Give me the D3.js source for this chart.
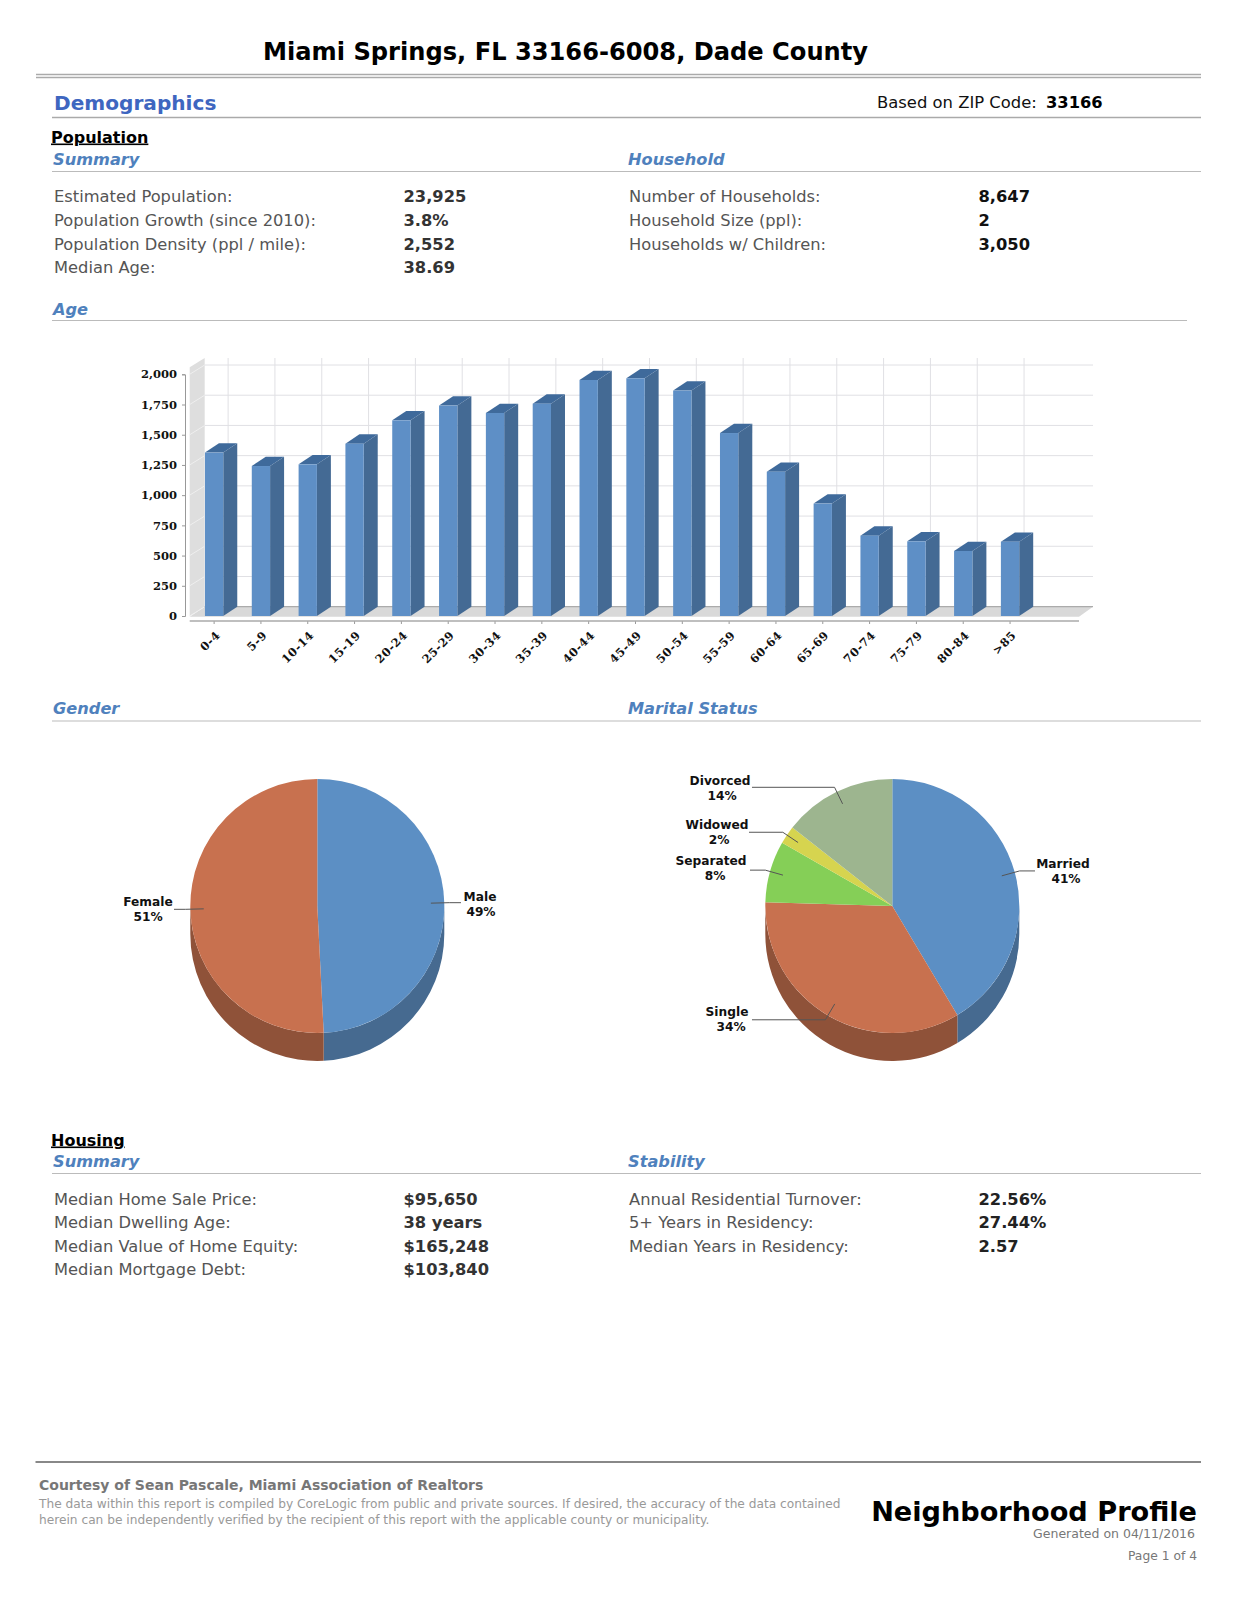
<!DOCTYPE html>
<html>

<head>
    <meta charset="UTF-8">
    <style>
        body { margin: 0; background: #fff; }
        svg { display: block; }
        text { font-family: "DejaVu Sans", sans-serif; }
    </style>
</head>

<body>
    <script src="https://d3js.org/d3.v7.min.js"></script>
    <div id="chart"></div>
    <script>
        // values
        const ageGroups = ["0-4", "5-9", "10-14", "15-19", "20-24", "25-29", "30-34", "35-39", "40-44", "45-49", "50-54", "55-59", "60-64", "65-69", "70-74", "75-79", "80-84", ">85"];
        const ageCounts = [1352, 1241, 1255, 1426, 1619, 1741, 1680, 1757, 1953, 1967, 1865, 1514, 1194, 930, 665, 618, 538, 615];
        const ageTicks = [0, 250, 500, 750, 1000, 1250, 1500, 1750, 2000];

        const genderNames = ["Male", "Female"];
        const genderShares = [49.2, 50.8];
        const maritalNames = ["Married", "Single", "Separated", "Widowed", "Divorced"];
        const maritalShares = [41.4, 34.0, 7.8, 2.3, 14.4];

        const populationLabels = ["Estimated Population:", "Population Growth (since 2010):", "Population Density (ppl / mile):", "Median Age:"];
        const populationValues = ["23,925", "3.8%", "2,552", "38.69"];
        const householdLabels = ["Number of Households:", "Household Size (ppl):", "Households w/ Children:"];
        const householdValues = ["8,647", "2", "3,050"];
        const housingLabels = ["Median Home Sale Price:", "Median Dwelling Age:", "Median Value of Home Equity:", "Median Mortgage Debt:"];
        const housingValues = ["$95,650", "38 years", "$165,248", "$103,840"];
        const stabilityLabels = ["Annual Residential Turnover:", "5+ Years in Residency:", "Median Years in Residency:"];
        const stabilityValues = ["22.56%", "27.44%", "2.57"];

        const svg = d3.select("#chart")
            .append("svg")
            .attr("width", 1236)
            .attr("height", 1600);

        const line = (x1, y1, x2, y2, color, w) => svg.append("line")
            .attr("x1", x1).attr("y1", y1).attr("x2", x2).attr("y2", y2)
            .attr("stroke", color).attr("stroke-width", w);

        const label = (x, y, str, size, color, weight, extra) => {
            const t = svg.append("text")
                .attr("x", x).attr("y", y)
                .attr("font-size", size)
                .attr("fill", color)
                .attr("font-weight", weight || "normal")
                .text(str);
            if (extra) extra(t);
            return t;
        };

        const sectionHead = (x, y, str) => label(x, y, str, 16.2, "#4f81bd", "bold", t => t.attr("font-style", "italic"));

        const rows = (x1, x2, ys, labels, values, valueColor) => {
            labels.forEach((d, i) => {
                label(x1, ys[i], d, 16.3, "#555", "normal");
                label(x2, ys[i], values[i], 16.3, valueColor, "bold");
            });
        };

        // page header
        label(263, 60, "Miami Springs, FL 33166-6008, Dade County", 24.15, "#000", "bold");
        line(36, 74.5, 1201, 74.5, "#aaa", 1.5);
        line(36, 77.5, 1201, 77.5, "#aaa", 1.5);
        label(54, 110, "Demographics", 20.1, "#3e66c0", "bold");
        label(877, 108, "Based on ZIP Code:", 16.4, "#111");
        label(1046, 108, "33166", 16.3, "#000", "bold");
        line(52, 117.5, 1201, 117.5, "#aaa", 1.5);

        // population block
        label(51, 142.5, "Population", 16, "#000", "bold", t => t.attr("text-decoration", "underline"));
        sectionHead(53, 165, "Summary");
        sectionHead(628, 165, "Household");
        line(52, 171.5, 1201, 171.5, "#bbb", 1);
        const topRows = [202, 225.5, 249.5, 273];
        rows(54, 403.5, topRows, populationLabels, populationValues, "#333");
        rows(629, 978.5, topRows, householdLabels, householdValues, "#111");

        sectionHead(53, 314.5, "Age");
        line(52, 320.5, 1187, 320.5, "#bbb", 1);

        // age chart, fake 3D like the original
        const depthX = 14, depthY = 9.3;
        const x = d3.scaleBand()
            .domain(ageGroups)
            .range([190.7, 190.7 + 46.82 * 18])
            .paddingInner(0.609)
            .paddingOuter(0.3045);
        const y = d3.scaleLinear()
            .domain([0, 2000])
            .range([616, 374.3]);
        const poly = pts => "M" + pts.map(p => p.join(",")).join("L") + "Z";

        const y0 = y(0), wallX = x.range()[0] - 1, backX = x.range()[0] + depthX, topY = y(2000) - depthY - 7;
        svg.append("path")
            .attr("d", poly([[wallX, y0], [backX, y0 - depthY], [backX, topY], [wallX, topY + depthY]]))
            .attr("fill", "#dedede");
        svg.append("path")
            .attr("d", poly([[wallX, y0 + 0.7], [backX, y0 - depthY], [1093, y0 - depthY], [1079, y0 + 0.7]]))
            .attr("fill", "#d9d9d9");

        const grid = svg.append("g").attr("fill", "none").attr("stroke", "#e0e0e4");
        ageTicks.forEach(t => {
            grid.append("path").attr("d", `M${wallX},${y(t)}L${backX},${y(t) - depthY}`).attr("stroke", "#efefef");
            if (t > 0) grid.append("line").attr("x1", backX).attr("x2", 1093)
                .attr("y1", y(t) - depthY).attr("y2", y(t) - depthY);
        });
        grid.selectAll("line.v")
            .data(ageGroups)
            .enter()
            .append("line")
            .attr("x1", d => x(d) + x.bandwidth() / 2 + depthX)
            .attr("x2", d => x(d) + x.bandwidth() / 2 + depthX)
            .attr("y1", topY)
            .attr("y2", y0 - depthY);
        line(backX, y0 - depthY, 1093, y0 - depthY, "#999", 1);

        const bars = svg.selectAll("g.bar")
            .data(ageGroups.map((d, i) => ({ group: d, value: ageCounts[i] })))
            .enter()
            .append("g")
            .attr("class", "bar");
        bars.append("path")
            .attr("fill", "#446a94")
            .attr("d", d => {
                const r = x(d.group) + x.bandwidth();
                return poly([[r, y0], [r + depthX, y0 - depthY], [r + depthX, y(d.value) - depthY], [r, y(d.value)]]);
            });
        bars.append("path")
            .attr("fill", "#3f6a9b")
            .attr("d", d => {
                const l = x(d.group), r = l + x.bandwidth(), t = y(d.value);
                return poly([[l, t], [l + depthX, t - depthY], [r + depthX, t - depthY], [r, t]]);
            });
        bars.append("rect")
            .attr("x", d => x(d.group))
            .attr("y", d => y(d.value))
            .attr("width", x.bandwidth())
            .attr("height", d => y0 - y(d.value))
            .attr("fill", "#5e8fc6");

        const axisFont = g => g.selectAll("text")
            .style("font-family", '"DejaVu Serif", serif')
            .style("font-weight", "bold")
            .style("font-size", "11.5px")
            .style("fill", "#111");

        const yAxis = svg.append("g")
            .attr("transform", "translate(185,0)")
            .call(d3.axisLeft(y).tickValues(ageTicks).tickFormat(d3.format(",")).tickSize(3).tickPadding(5));
        axisFont(yAxis);
        yAxis.selectAll("path,line").attr("stroke", "#999");

        const xAxis = svg.append("g")
            .attr("transform", "translate(0,621)")
            .call(d3.axisBottom(x).tickSize(3).tickSizeOuter(0));
        axisFont(xAxis);
        xAxis.select(".domain").remove();
        xAxis.selectAll("line").attr("stroke", "#999");
        xAxis.selectAll("text")
            .attr("x", 0).attr("y", 0).attr("dy", "0.35em")
            .attr("transform", "translate(4,12) rotate(-45)")
            .style("text-anchor", "end")
            .style("letter-spacing", "0.6px");
        line(wallX, 621, 1079, 621, "#aaa", 1.5);

        // gender / marital heads
        sectionHead(53, 714, "Gender");
        sectionHead(628, 714, "Marital Status");
        line(52, 721, 1201, 721, "#bbb", 1);

        // 3D pies: top face from d3.arc, rim from the part of each slice facing the viewer
        const pieR = 127, pieDepth = 28;
        function drawPie(cx, cy, names, shares, colors, sideColors, labelLayout) {
            const g = svg.append("g").attr("transform", `translate(${cx},${cy})`);
            const slices = d3.pie().sort(null)(shares);
            const arc = d3.arc().innerRadius(0).outerRadius(pieR);
            const lo = Math.PI / 2, hi = Math.PI * 1.5;

            slices.forEach((s, i) => {
                const a0 = Math.max(s.startAngle, lo), a1 = Math.min(s.endAngle, hi);
                if (a1 <= a0) return;
                const p = d3.path();
                p.arc(0, 0, pieR, a0 - lo, a1 - lo);
                p.arc(0, pieDepth, pieR, a1 - lo, a0 - lo, true);
                p.closePath();
                g.append("path").attr("d", p.toString()).attr("fill", sideColors[i]);
            });
            g.selectAll("path.slice")
                .data(slices)
                .enter()
                .append("path")
                .attr("class", "slice")
                .attr("d", arc)
                .attr("fill", (d, i) => colors[i]);

            // leader lines start inside the slice, bend at the rim, then run level to the label
            const polar = (a, r) => [Math.sin(a) * r, -Math.cos(a) * r];
            slices.forEach((s, i) => {
                const mid = (s.startAngle + s.endAngle) / 2;
                const inner = polar(mid, 113.6), elbow = polar(mid, 132);
                const lay = labelLayout[i];
                g.append("path")
                    .attr("fill", "none")
                    .attr("stroke", "#555")
                    .attr("stroke-width", 1)
                    .attr("d", `M${inner}L${elbow}L${lay.endX - cx},${elbow[1]}`);
                const t = g.append("text")
                    .attr("text-anchor", "middle")
                    .attr("font-size", 12.2)
                    .attr("font-weight", "bold")
                    .attr("fill", "#111");
                t.append("tspan").attr("x", lay.nameX - cx).attr("y", lay.nameY - cy).text(names[i]);
                t.append("tspan").attr("x", lay.pctX - cx).attr("y", lay.nameY - cy + 15).text(Math.round(shares[i]) + "%");
            });
        }

        drawPie(317.3, 906, genderNames, genderShares, ["#5c8fc4", "#c8714f"], ["#466a90", "#8f5239"], [
            { endX: 461, nameX: 480, pctX: 481, nameY: 901 },
            { endX: 174, nameX: 148, pctX: 148, nameY: 906 }
        ]);
        drawPie(892.3, 906, maritalNames, maritalShares,
            ["#5c8fc4", "#c8714f", "#85cf57", "#d6d44f", "#9db58f"],
            ["#466a90", "#8f5239", "#85cf57", "#d6d44f", "#9db58f"], [
            { endX: 1035, nameX: 1063, pctX: 1066, nameY: 868 },
            { endX: 752, nameX: 727, pctX: 731, nameY: 1016 },
            { endX: 750, nameX: 711, pctX: 715, nameY: 865 },
            { endX: 749, nameX: 717, pctX: 719, nameY: 829 },
            { endX: 752, nameX: 720, pctX: 722, nameY: 785 }
        ]);

        // housing block
        label(51, 1145.5, "Housing", 16, "#000", "bold", t => t.attr("text-decoration", "underline"));
        sectionHead(53, 1167, "Summary");
        sectionHead(628, 1167, "Stability");
        line(52, 1173.5, 1201, 1173.5, "#bbb", 1);
        const lowRows = [1205, 1228, 1251.5, 1274.5];
        rows(54, 403.5, lowRows, housingLabels, housingValues, "#333");
        rows(629, 978.5, lowRows, stabilityLabels, stabilityValues, "#222");

        // footer
        line(35.5, 1462, 1201, 1462, "#888", 2);
        label(39, 1490, "Courtesy of Sean Pascale, Miami Association of Realtors", 14, "#777", "bold");
        label(39, 1508, "The data within this report is compiled by CoreLogic from public and private sources. If desired, the accuracy of the data contained", 12.2, "#999");
        label(39, 1524, "herein can be independently verified by the recipient of this report with the applicable county or municipality.", 12.2, "#999");
        label(1197, 1521, "Neighborhood Profile", 27.15, "#000", "bold", t => t.attr("text-anchor", "end"));
        label(1195, 1538, "Generated on  04/11/2016", 12.5, "#777", "normal", t => t.attr("text-anchor", "end"));
        label(1197, 1560, "Page 1 of 4", 12.3, "#777", "normal", t => t.attr("text-anchor", "end"));
    </script>
</body>

</html>
